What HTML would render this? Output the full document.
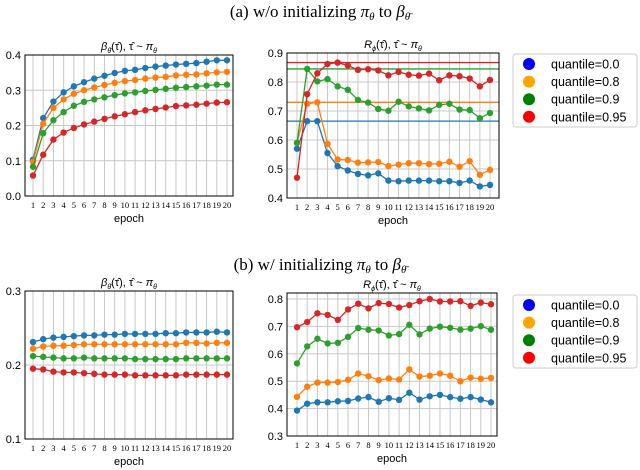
<!DOCTYPE html>
<html><head><meta charset="utf-8"><style>
body{margin:0;background:#fff}
svg{display:block;font-family:"Liberation Sans",sans-serif}
</style></head><body>
<svg id="c" width="640" height="470" xmlns="http://www.w3.org/2000/svg">
<text x="320" y="17" text-anchor="middle" font-family="Liberation Serif" font-size="17">(a) w/o initializing <tspan font-style="italic">π</tspan><tspan font-size="11" dy="3" font-style="italic">θ</tspan><tspan dy="-3"> to </tspan><tspan font-style="italic">β</tspan><tspan font-size="11" dy="3" font-style="italic">θ̄</tspan></text>
<text x="320" y="270" text-anchor="middle" font-family="Liberation Serif" font-size="17">(b) w/ initializing <tspan font-style="italic">π</tspan><tspan font-size="11" dy="3" font-style="italic">θ</tspan><tspan dy="-3"> to </tspan><tspan font-style="italic">β</tspan><tspan font-size="11" dy="3" font-style="italic">θ̄</tspan></text>
</svg>
<script>
const epochs=[1,2,3,4,5,6,7,8,9,10,11,12,13,14,15,16,17,18,19,20];
const seriesNames=["quantile=0.0","quantile=0.8","quantile=0.9","quantile=0.95"];
const colors=["#1f77b4","#ff7f0e","#2ca02c","#d62728"];
const legendColors=["#0000ff","#ffa500","#008000","#ff0000"];
const a1Blue=[.103,.221,.268,.294,.311,.323,.333,.341,.349,.355,.358,.363,.367,.37,.373,.375,.377,.381,.385,.385];
const a1Orange=[.097,.205,.25,.274,.29,.3,.308,.315,.321,.326,.329,.333,.336,.338,.342,.344,.345,.348,.351,.352];
const a1Green=[.083,.178,.215,.238,.256,.267,.274,.28,.286,.291,.294,.298,.301,.304,.307,.309,.311,.313,.316,.316];
const a1Red=[.058,.117,.16,.18,.193,.203,.211,.219,.226,.232,.238,.243,.247,.251,.255,.257,.259,.262,.265,.266];
const a2Blue=[.57,.665,.665,.555,.51,.495,.483,.478,.485,.46,.458,.46,.46,.46,.458,.458,.452,.46,.44,.445];
const a2Orange=[.59,.725,.73,.587,.533,.531,.522,.523,.524,.51,.515,.52,.52,.517,.518,.525,.508,.527,.48,.497];
const a2Green=[.59,.845,.802,.81,.785,.773,.738,.729,.707,.701,.732,.716,.709,.702,.721,.725,.705,.703,.675,.693];
const a2Red=[.47,.758,.83,.862,.867,.857,.842,.844,.84,.823,.835,.825,.822,.829,.806,.823,.82,.812,.785,.807];
const a2HLines=[.665,.73,.845,.867];
const b1Blue=[.231,.235,.237,.238,.239,.240,.240,.241,.241,.242,.242,.242,.242,.243,.243,.244,.244,.244,.245,.244];
const b1Orange=[.222,.225,.226,.226,.227,.228,.228,.228,.228,.228,.228,.228,.228,.228,.228,.23,.23,.229,.23,.23];
const b1Green=[.212,.211,.210,.209,.209,.210,.209,.209,.209,.209,.208,.208,.208,.208,.208,.209,.209,.209,.209,.209];
const b1Red=[.195,.194,.191,.190,.190,.189,.188,.187,.187,.187,.186,.186,.186,.186,.186,.187,.187,.187,.187,.187];
const b2Blue=[.393,.418,.423,.423,.427,.428,.437,.442,.425,.438,.432,.458,.433,.445,.45,.442,.436,.442,.433,.423];
const b2Orange=[.443,.48,.495,.495,.497,.505,.528,.518,.504,.51,.506,.543,.517,.52,.528,.52,.5,.513,.509,.512];
const b2Green=[.565,.627,.655,.638,.64,.662,.694,.688,.685,.667,.672,.706,.671,.692,.699,.695,.688,.692,.701,.688];
const b2Red=[.697,.716,.748,.742,.724,.762,.783,.766,.785,.782,.769,.778,.792,.8,.791,.791,.792,.775,.787,.781];
const a1Ticks=["0.0","0.1","0.2","0.3","0.4"];
const a2Ticks=["0.4","0.5","0.6","0.7","0.8","0.9"];
const b1Ticks=["0.1","0.2","0.3"];
const b2Ticks=["0.3","0.4","0.5","0.6","0.7","0.8"];

const svg=document.getElementById('c');
const NS="http://www.w3.org/2000/svg";
function mk(tag,attrs,parent){const e=document.createElementNS(NS,tag);for(const k in attrs)e.setAttribute(k,attrs[k]);(parent||svg).appendChild(e);return e;}

function panel(name,L,R,T,B,ymin,ymax,ticks,series,title,hlines,xFirst,xLast){
  const g=mk('g',{});
  
  
  const ys=v=>B-(v-ymin)/(ymax-ymin)*(B-T);
  const xs=e=>xFirst+(e-1)/(epochs.length-1)*(xLast-xFirst);
  epochs.forEach(e=>{
    const l=mk('line',{x1:xs(e),x2:xs(e),y1:T,y2:B,stroke:'#c8c8c8','stroke-width':1},g);
    
    
    const t=mk('text',{x:xs(e),y:B+12,'text-anchor':'middle','font-size':8.5,'font-family':'Liberation Serif'},g);
    t.textContent=e;
    
    
  });
  ticks.forEach(s=>{
    const v=parseFloat(s);const y=ys(v);
    const l=mk('line',{x1:L,x2:R,y1:y,y2:y,stroke:'#c8c8c8','stroke-width':1},g);
    
    
    const t=mk('text',{x:L-4,y:y+4,'text-anchor':'end','font-size':11},g);
    t.textContent=s;
    
    
  });
  if(hlines){hlines.forEach((v,i)=>{
    const l=mk('line',{x1:L,x2:R,y1:ys(v),y2:ys(v),stroke:colors[i],'stroke-width':1.3},g);
    
    
  });}
  series.forEach((arr,i)=>{
    const p=mk('polyline',{points:arr.map((v,j)=>xs(epochs[j])+','+ys(v)).join(' '),fill:'none',stroke:colors[i],'stroke-width':1.3},g);
    
    
    arr.forEach((v,j)=>{
      const c=mk('circle',{cx:xs(epochs[j]),cy:ys(v),r:3.2,fill:colors[i]},g);
      
      
    });
  });
  const f=mk('rect',{x:L,y:T,width:R-L,height:B-T,fill:'none',stroke:'#000','stroke-width':1},g);
  
  
  const xl=mk('text',{x:(L+R)/2,y:B+26,'text-anchor':'middle','font-size':11},g);
  xl.textContent='epoch';
  
  
  const tt=mk('text',{x:(L+R)/2,y:T-5,'text-anchor':'middle','font-size':11},g);
  tt.innerHTML=title;
  
  
}
const tB='<tspan font-style="italic">β</tspan><tspan font-size="7" dy="3" font-style="italic">θ̄</tspan><tspan dy="-3">(τ̂),  τ̂ ~ </tspan><tspan font-style="italic">π</tspan><tspan font-size="7" dy="3" font-style="italic">θ</tspan>';
const tR='<tspan font-style="italic">R</tspan><tspan font-size="7" dy="3" font-style="italic">ϕ</tspan><tspan dy="-3">(τ̂),  τ̂ ~ </tspan><tspan font-style="italic">π</tspan><tspan font-size="7" dy="3" font-style="italic">θ</tspan>';
panel('chart-a-beta',25,233,55,196,0,0.4,a1Ticks,[a1Blue,a1Orange,a1Green,a1Red],tB,null,33,227);
panel('chart-a-reward',287,499,53,198,0.4,0.9,a2Ticks,[a2Blue,a2Orange,a2Green,a2Red],tR,a2HLines,297,490);
panel('chart-b-beta',25,233,291,439,0.1,0.3,b1Ticks,[b1Blue,b1Orange,b1Green,b1Red],tB,null,33,227);
panel('chart-b-reward',287,497,293,436,0.3,0.822,b2Ticks,[b2Blue,b2Orange,b2Green,b2Red],tR,null,297,491);

function legend(name,x,y){
  const g=mk('g',{});
  
  
  const r=mk('rect',{x:x,y:y,width:124,height:73,rx:3,fill:'#fff',stroke:'#ccc'},g);
  
  
  seriesNames.forEach((s,i)=>{
    const cy=y+10+i*17.6;
    const c=mk('circle',{cx:x+16,cy:cy,r:6,fill:legendColors[i]},g);
    
    
    const t=mk('text',{x:x+38,y:cy+4.5,'font-size':12.5},g);
    t.textContent=s;
    
    
  });
}
legend('legend-a',513,54);
legend('legend-b',513,295);
</script>
</body></html>
